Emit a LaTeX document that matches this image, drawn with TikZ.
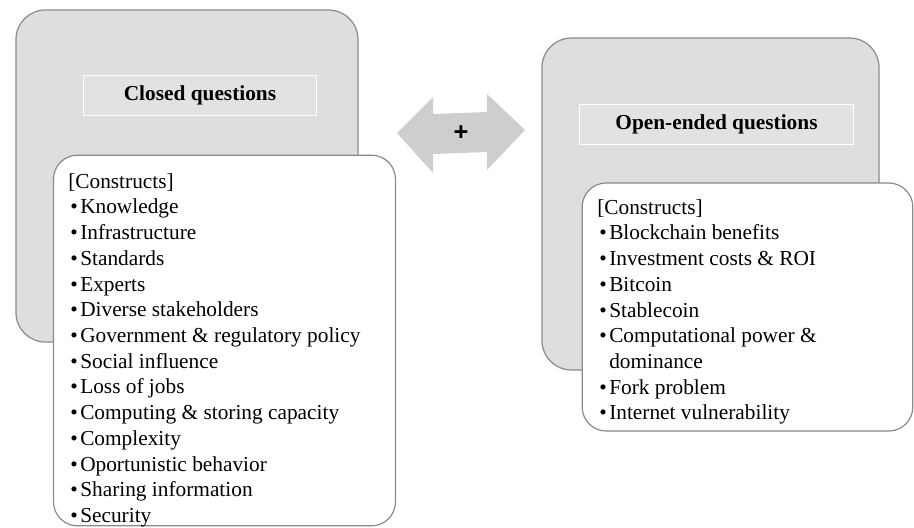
\documentclass[tikz,border=0pt]{standalone}
\usepackage{fontspec}
\setmainfont{Liberation Serif}
\newfontfamily\signofont{Liberation Sans}
\usepackage{tikz}
\usetikzlibrary{
    positioning
}
\definecolor{fondo}{RGB}{222,222,222}
\definecolor{fondotit}{RGB}{226,226,226}
\definecolor{borde}{RGB}{138,138,138}
\definecolor{flecha}{RGB}{206,206,206}
\newcommand{\itm}{\makebox[9pt][l]{\hspace{1.5pt}\textbullet}}
\tikzset{
    grupo/.style={
        draw=borde,
        fill=fondo,
        line width=0.9pt,
        rounded corners=22pt
    },
    titulo/.style={
        draw=white,
        fill=fondotit,
        line width=0.6pt,
        font=\fontsize{16}{19}\selectfont\bfseries
    },
    lista/.style={
        draw=borde,
        fill=white,
        line width=0.9pt,
        rounded corners=18pt
    },
    constructos/.style={
        anchor=north west,
        inner sep=0pt,
        align=left,
        font=\fontsize{16}{19.3}\selectfont
    }
}

\begin{document}
\begin{tikzpicture}[
    x=0.75pt,
    y=-0.75pt
]
    \useasboundingbox (0,0) rectangle (914,528);

    % Preguntas cerradas
    \node[grupo, minimum width=256.5pt, minimum height=249pt]
        (cerradas) at (187,176) {};
    \node[titulo, minimum width=175pt, minimum height=29.5pt]
        (titcerr) at (200,95.5) {Closed questions};
    \node[lista, minimum width=256.5pt, minimum height=278pt]
        (listcerr) at (224.5,340.5) {};
    \node[constructos] (txtcerr) at (68,173) {%
        [Constructs]\\
        \itm Knowledge\\
        \itm Infrastructure\\
        \itm Standards\\
        \itm Experts\\
        \itm Diverse stakeholders\\
        \itm Government \& regulatory policy\\
        \itm Social influence\\
        \itm Loss of jobs\\
        \itm Computing \& storing capacity\\
        \itm Complexity\\
        \itm Oportunistic behavior\\
        \itm Sharing information\\
        \itm Security};

    % Preguntas abiertas
    \node[grupo, minimum width=252.75pt, minimum height=249pt]
        (abiertas) at (710.5,204) {};
    \node[titulo, minimum width=205pt, minimum height=30pt]
        (titabie) at (716.5,124) {Open-ended questions};
    \node[lista, minimum width=248pt, minimum height=186pt]
        (listabie) at (747.5,307) {};
    \node[constructos] (txtabie) at (597,199) {%
        [Constructs]\\
        \itm Blockchain benefits\\
        \itm Investment costs \& ROI\\
        \itm Bitcoin\\
        \itm Stablecoin\\
        \itm Computational power \&\\
        \hspace*{9pt}dominance\\
        \itm Fork problem\\
        \itm Internet vulnerability};

    % Flecha doble entre ambos grupos
    \fill[flecha]
        (397,133) -- (433,97) -- (433,114) -- (487,112) -- (487,94)
        -- (525,130) -- (487,170) -- (487,152) -- (433,154)
        -- (433,173) -- cycle;
    \node[font=\signofont\bfseries\fontsize{19}{19}\selectfont]
        (mas) at (461,133) {+};

\end{tikzpicture}
\end{document}
